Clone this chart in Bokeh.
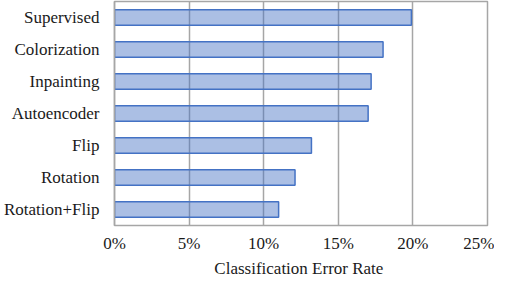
from bokeh.plotting import figure
from bokeh.models import FixedTicker
from bokeh.embed import file_html
from bokeh.resources import INLINE

methods = ["Supervised", "Colorization", "Inpainting", "Autoencoder", "Flip", "Rotation", "Rotation+Flip"]
error_rates = [19.9, 18.0, 17.2, 17.0, 13.2, 12.1, 11.0]
tick_values = [0, 5, 10, 15, 20, 25]
tick_labels = ["0%", "5%", "10%", "15%", "20%", "25%"]
x_title = "Classification  Error Rate"

FONT = "Liberation Serif"
GRID = "#a6a6a6"
TEXT = "#1a1a1a"

factors = list(reversed(methods))
p = figure(width=494, height=280, y_range=factors, x_range=(0, 25),
           output_backend="svg", toolbar_location=None,
           min_border_left=110, min_border_right=7, min_border_top=1, min_border_bottom=0)

p.hbar(y=methods, right=error_rates, left=0, height=0.49,
       fill_color="#4472c4", fill_alpha=0.45, line_color="#4472c4", line_width=1.5)

p.outline_line_color = GRID
p.outline_line_width = 1.5
p.ygrid.visible = False
p.xgrid.grid_line_color = GRID
p.xgrid.grid_line_width = 1.5
p.xaxis.ticker = FixedTicker(ticks=tick_values)
p.xaxis.major_label_overrides = {v: l for v, l in zip(tick_values, tick_labels)}
for ax in (p.xaxis[0], p.yaxis[0]):
    ax.major_tick_line_color = None
    ax.minor_tick_line_color = None
    ax.major_tick_out = 0
    ax.major_tick_in = 0
    ax.major_label_text_font = FONT
    ax.major_label_text_font_size = "17px"
    ax.major_label_text_color = TEXT
p.xaxis.axis_line_color = None
p.yaxis.axis_line_color = GRID
p.yaxis.axis_line_width = 1.5
p.yaxis.major_label_standoff = 15
p.xaxis.major_label_standoff = 8

p.xaxis.axis_label = x_title
p.xaxis.axis_label_text_font = FONT
p.xaxis.axis_label_text_font_size = "17px"
p.xaxis.axis_label_text_font_style = "normal"
p.xaxis.axis_label_text_color = TEXT
p.xaxis.axis_label_standoff = 3

open("out.html", "w").write(file_html(p, INLINE))
